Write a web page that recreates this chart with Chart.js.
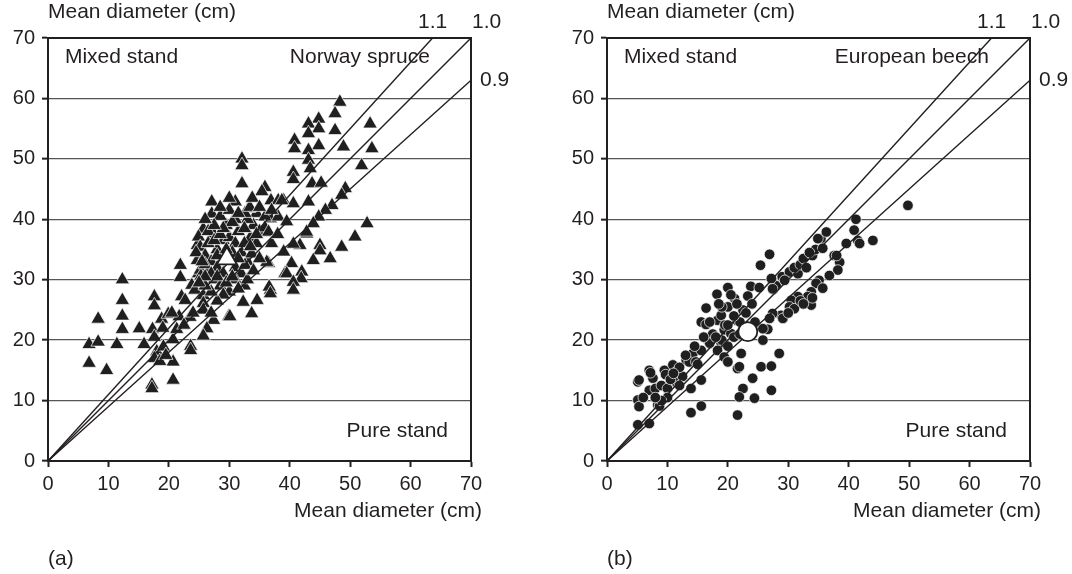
<!DOCTYPE html>
<html><head><meta charset="utf-8">
<script src="https://cdn.jsdelivr.net/npm/chart.js@4"></script>
<style>
html,body{margin:0;padding:0;background:#fff;width:1072px;height:574px;overflow:hidden}
canvas{position:absolute;top:0}
#ca{left:0}#cb{left:536px}
</style></head><body>
<canvas id="ca" width="536" height="574"></canvas>
<canvas id="cb" width="536" height="574"></canvas>
<script>
const tickValues = [0,10,20,30,40,50,60,70];
const ratioValues = [1.1, 1.0, 0.9];
const ratioLabels = ['1.1','1.0','0.9'];
const axisTitle = 'Mean diameter (cm)';
const speciesNames = ['Norway spruce','European beech'];
const panelLabels = ['(a)','(b)'];
const mixedLabel = 'Mixed stand';
const pureLabel = 'Pure stand';

const sprucePoints = [
[6.8,19.3],[8.3,19.7],[8.3,23.5],[6.8,16.2],[9.7,15],[11.4,19.3],[12.3,30],[12.3,26.6],[12.3,24],[12.3,21.8],
[15.1,21.9],[15.9,19.3],[17.6,27.2],[17.6,25.7],[17.3,21.8],[17.6,20.5],[18,18.1],[17.6,17],[17.2,12.6],[17.2,12],
[18.8,23.5],[19.1,18.9],[19.9,24.3],[20.7,16.4],[20.7,13.4],[20.7,20.1],[21.3,21.8],[21.7,23.9],[21.9,32.4],[21.9,30.4],
[22.1,27.2],[22.7,26.6],[23.5,23.8],[23.6,19],[23.6,18.3],[23.8,29.1],[24.3,28.3],[24.7,35.7],[24.7,33.2],[24.9,31],
[25.7,38.4],[27.4,37.6],[24.9,37.1],[25.2,35.4],[27.1,42.9],[27.1,40.9],[31,42.9],[25.7,27.4],[25.7,26.1],[25.7,25],
[27.4,23.3],[26.3,21.9],[25.7,20.7],[29.9,23.9],[25.2,31.6],[26.5,31.4],[25.3,30.6],[30.1,23.9],[33.7,24.4],[32.3,26.3],
[34.6,26.6],[26,34],[27,33],[28,35],[26.5,36],[28,32],[29,31],[27.5,30],[28.5,29],[29,36.5],
[30,37],[31,36],[31.5,38],[30.5,34.5],[31,32],[32,31],[31,30],[32.5,29],[30,28],[29,27.5],
[28,26.5],[27,28],[26,29],[33,33],[32,34.5],[33.5,37],[34,39],[33,40],[32.5,38.5],[34.5,41],
[35,38],[31,40],[29.5,39],[28.5,40.5],[30,41.5],[32.1,50],[32.1,48.9],[32.1,45.9],[35.9,45.3],[35.4,44.6],
[36.9,43.1],[38.1,43.1],[39,43.1],[33.2,41.8],[32.6,41],[36.5,32.7],[39.2,31],[36.8,28.3],[36.6,28.8],[48.3,59.4],
[47.5,57.5],[44.8,56.6],[43.1,55.8],[44.8,55],[43.1,54.2],[47.5,54.7],[53.3,55.8],[53.6,51.7],[48.9,52],[44.8,52.2],
[40.8,53.1],[40.8,51.7],[43.1,51.4],[43.1,49.8],[43.4,48.4],[51.9,48.9],[40.6,47.8],[40.6,46.6],[43.7,45.9],[45.2,46],
[49.2,45.1],[48.6,44],[47,42.3],[45.9,41.5],[43.1,42.9],[40.6,42.6],[38.7,43.1],[44.8,40.4],[43.9,39.3],[42.8,37.6],
[52.8,39.3],[50.8,37.1],[48.6,35.4],[46.7,33.5],[45,35.7],[45,34.8],[43.9,33.2],[41.7,35.7],[40.6,35.9],[39,34.6],
[40.3,32.7],[42,31.3],[41.9,30.2],[39.5,31],[40.6,29.6],[40.6,28.3],[36.8,27.7],[36.8,40.1],[38.1,40.4],[39.5,39.6],
[35.9,40.4],[35.9,38.6],[33.7,34.3],[32.6,32.4],[36.2,32.9],[36.5,37.9],[42.8,37.9],[33.4,42],[19,22],[20.5,24.5],
[22.5,22.5],[24,24.5],[27,24.5],[18.5,16.5],[19.5,17.5],[28,34],[26,32.5],[37,36],[38,37.5],[34.5,36],
[24.5,34.5],[25.5,33],[26.5,38],[27.5,36.5],[28.5,37.5],[29.5,35],[30.5,39.5],[31.5,33.5],[32.5,36],[33.5,35.5],
[27,31],[28,30.5],[26,30.5],[25,29.5],[29.5,29.5],[30.5,30.5],[31.5,28.5],[33,30],[34,31.5],[35,33.5],
[34.5,37.5],[29,38.5],[27.5,39],[26,40],[28.5,42],[30,43.5],[31.5,41],[33.8,43.5],[35,42],[37,41.5]
];
const spruceMean = [29.6, 33.5];

const beechPoints = [
[5.1,13.1],[5.3,13.4],[5.1,10.1],[5.3,9],[5.1,6],[7,6.2],[7,15],[7.6,13.7],[7,11.7],[8.4,9.3],
[8.7,9.1],[7.2,14.6],[9.5,15],[9.7,14.3],[10.9,15.9],[11.7,15],[13.1,16.7],[14.2,17.8],[13.6,16.4],[14.7,16.4],
[15.6,18.3],[16.7,20],[15.6,23],[16.4,22.6],[16.4,25.3],[18.2,27.6],[20,28.7],[21.1,26.9],[20,25.5],[23.8,28.9],
[25.2,28.7],[23.3,27.3],[27.3,30],[27.5,28.4],[26.9,34.2],[25.4,32.4],[18.3,23.3],[18.9,24.1],[21.4,23.3],[19.4,21.7],
[20.5,21.1],[18.9,19.5],[18.3,18.3],[19.4,17.2],[20,16.4],[21.6,15.3],[21.6,7.6],[13.9,8],[15.6,9.1],[15.6,13.4],
[13.9,12],[8,12],[9,12.5],[10,12],[11.5,13],[12.5,14],[10,10.5],[9,10],[12,12.5],[8,10.5],
[19,20],[20,19],[21,20.5],[22,21],[22,23],[21,24],[19.5,22.5],[17.5,21],[17,19.5],[18,20.5],
[22.5,25],[21.5,26],[23,24.5],[20.5,27.5],[24,26],[28,29],[29,30.5],[30.2,31.3],[31.6,31],[31,32],
[32,32.5],[32.5,33.5],[33,32],[34,34],[34.5,35],[33.5,34.5],[35.4,36.8],[36.3,37.9],[34.9,36.8],[35.7,35.2],
[37.6,34],[38.5,32.9],[38.2,31.6],[36.8,30.7],[35.1,29.9],[34.6,29.4],[35.7,28.6],[33.8,28],[33.2,27.2],[31.6,27.2],
[30.5,26.6],[30.2,25.5],[31,25.2],[33.8,25.8],[28.8,24.1],[27.4,24.4],[29.1,23.6],[26.9,23.6],[27.2,30.2],[27.4,28.5],
[29.4,29.9],[32,26.5],[34,27],[32.5,26],[30,24.5],[49.8,42.3],[41.2,40],[40.9,38.2],[41.5,36.5],[41.8,36],
[44,36.5],[39.6,36],[38,34],[25.8,20],[22.2,17.8],[21.9,15.6],[25.5,15.6],[24.1,13.7],[22.5,12],[21.9,10.6],
[24.4,10.4],[27.2,15.7],[27.2,11.7],[28.5,17.8],[26.6,21.8],[25.8,21.9],[15,16],[12,15.5],[6,10.5],[10.5,13.5],
[16,20.5],[17,23],[19,25.5],[23,22],[24.5,23],[20,22.5],[18.5,26],[13,17.5],[11,14.5],[14.5,19]
];
const beechMean = [23.3, 21.4];

const FONT = "'Liberation Sans', Arial, Helvetica, sans-serif";
const INK = '#231f20';

function textPlugin(species, panel){
  return {id:'frameText', afterDraw(chart){
    const {ctx, chartArea:a, scales:{x, y}} = chart;
    ctx.save();
    ctx.strokeStyle = INK; ctx.lineWidth = 2;
    ctx.strokeRect(a.left, a.top, a.right - a.left, a.bottom - a.top);
    ctx.fillStyle = INK;
    ctx.font = '21px ' + FONT;
    ctx.textBaseline = 'alphabetic';
    ctx.textAlign = 'left';
    ctx.fillText(axisTitle, a.left, 18);
    ctx.fillText(mixedLabel, x.getPixelForValue(2.8), y.getPixelForValue(65.8));
    ctx.textAlign = 'right';
    ctx.fillText(species, x.getPixelForValue(63.2), y.getPixelForValue(65.8));
    ctx.fillText(pureLabel, x.getPixelForValue(66.2), y.getPixelForValue(4));
    ctx.fillText(axisTitle, a.right + 11, 517);
    ctx.textAlign = 'left';
    ctx.fillText(panel, a.left, 565);
    ratioValues.forEach((s, i) => {
      if (s > 1) { ctx.textAlign = 'center'; ctx.textBaseline = 'alphabetic'; ctx.fillText(ratioLabels[i], x.getPixelForValue(70 / s), 28); }
      else if (s === 1) { ctx.textAlign = 'left'; ctx.textBaseline = 'alphabetic'; ctx.fillText(ratioLabels[i], a.right + 1, 28); }
      else { ctx.textAlign = 'left'; ctx.textBaseline = 'middle'; ctx.fillText(ratioLabels[i], a.right + 9, y.getPixelForValue(70 * s)); }
    });
    ctx.restore();
  }};
}

function makeChart(id, points, mean, style, ptRadius, meanRadius, yWidth, rightPad, species, panel){
  const lineSets = ratioValues.map(s => ({
    data: [{x:0, y:0}, {x: Math.min(70, 70 / s), y: Math.min(70, 70 * s)}],
    showLine: true, borderColor: INK, borderWidth: 1.4, pointRadius: 0, order: 1, clip: false
  }));
  new Chart(document.getElementById(id), {
    type: 'scatter',
    data: { datasets: [
      { data: [{x: mean[0], y: mean[1]}], pointStyle: style, pointRadius: meanRadius,
        backgroundColor: '#fff', borderColor: INK, borderWidth: 1.8, order: 0 },
      ...lineSets,
      { data: points.map(([x, y]) => ({x, y})), pointStyle: style, pointRadius: ptRadius,
        backgroundColor: '#1f1f1f', borderColor: '#fff', borderWidth: 0.7, order: 2 }
    ]},
    options: {
      responsive: false, animation: false, events: [],
      layout: { padding: { top: 38, right: rightPad, left: 0, bottom: 0 } },
      plugins: { legend: { display: false }, tooltip: { enabled: false } },
      scales: {
        x: { type: 'linear', min: 0, max: 70,
          afterBuildTicks: s => { s.ticks = tickValues.map(v => ({value: v})); },
          afterFit: s => { s.height = 574 - 461; },
          grid: { drawOnChartArea: false, drawTicks: true, tickLength: 6, tickColor: INK, tickWidth: 2 },
          border: { display: true, color: INK, width: 2 },
          ticks: { color: INK, font: { size: 20, family: FONT }, padding: 5, maxRotation: 0, autoSkip: false } },
        y: { type: 'linear', min: 0, max: 70,
          afterBuildTicks: s => { s.ticks = tickValues.map(v => ({value: v})); },
          afterFit: s => { s.width = yWidth; },
          grid: { color: '#555', lineWidth: 1.3, drawTicks: true, tickLength: 6, tickColor: INK, tickWidth: 2 },
          border: { display: true, color: INK, width: 2 },
          ticks: { color: INK, font: { size: 20, family: FONT }, padding: 7, autoSkip: false } }
      }
    },
    plugins: [textPlugin(species, panel)]
  });
}

makeChart('ca', sprucePoints, spruceMean, 'triangle', 8.3, 11.5, 48, 65, speciesNames[0], panelLabels[0]);
makeChart('cb', beechPoints, beechMean, 'circle', 5.3, 9.5, 71, 42, speciesNames[1], panelLabels[1]);
</script>
</body></html>
